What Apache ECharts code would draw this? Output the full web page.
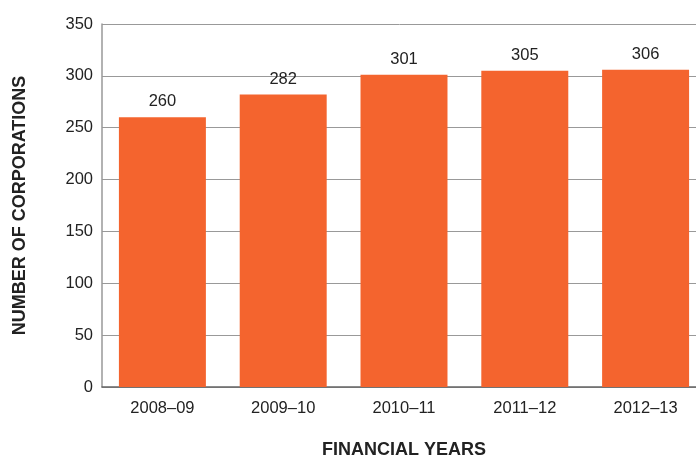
<!DOCTYPE html>
<html>
<head>
<meta charset="utf-8">
<script src="https://cdn.jsdelivr.net/npm/echarts@6/dist/echarts.min.js"></script>
<style>
  html, body { margin: 0; padding: 0; background: #fff; }
  #chart { width: 696px; height: 457px; }
</style>
</head>
<body>
<div id="chart"></div>
<script>
// 数据
var years = ['2008–09', '2009–10', '2010–11', '2011–12', '2012–13']
var corporations = [260, 282, 301, 305, 306]
var yTicks = [0, 50, 100, 150, 200, 250, 300, 350]

var chart = echarts.init(document.getElementById('chart'))

var option = {
  animation: false,
  grid: {
    left: 102,
    right: -10,
    top: 24,
    bottom: 70,
    outerBoundsMode: 'none',
    containLabel: false
  },
  xAxis: {
    type: 'category',
    data: years,
    name: 'FINANCIAL YEARS',
    nameLocation: 'middle',
    nameGap: 54,
    nameTextStyle: {
      fontFamily: 'Liberation Sans',
      fontWeight: 'bold',
      fontSize: 18,
      color: '#222'
    },
    axisLine: { lineStyle: { color: '#666', width: 1.5 } },
    axisTick: { show: false },
    axisLabel: {
      fontFamily: 'Liberation Sans',
      fontSize: 16.5,
      color: '#222',
      margin: 13
    }
  },
  yAxis: {
    type: 'value',
    min: yTicks[0],
    max: yTicks[yTicks.length - 1],
    interval: 50,
    name: 'NUMBER OF CORPORATIONS',
    nameLocation: 'middle',
    nameGap: 73,
    nameTextStyle: {
      fontFamily: 'Liberation Sans',
      fontWeight: 'bold',
      fontSize: 18,
      color: '#222'
    },
    axisLine: { show: true, lineStyle: { color: '#999', width: 1.5 } },
    axisTick: { show: false },
    axisLabel: {
      fontFamily: 'Liberation Sans',
      fontSize: 16.5,
      color: '#222',
      margin: 9
    },
    splitLine: { lineStyle: { color: '#999', width: 1 } }
  },
  series: [{
    type: 'bar',
    data: corporations,
    barWidth: '72%',
    itemStyle: { color: '#F4642E' },
    label: {
      show: true,
      position: 'top',
      distance: 7,
      fontFamily: 'Liberation Sans',
      fontSize: 16.5,
      color: '#222'
    }
  }]
}

chart.setOption(option)
</script>
</body>
</html>
